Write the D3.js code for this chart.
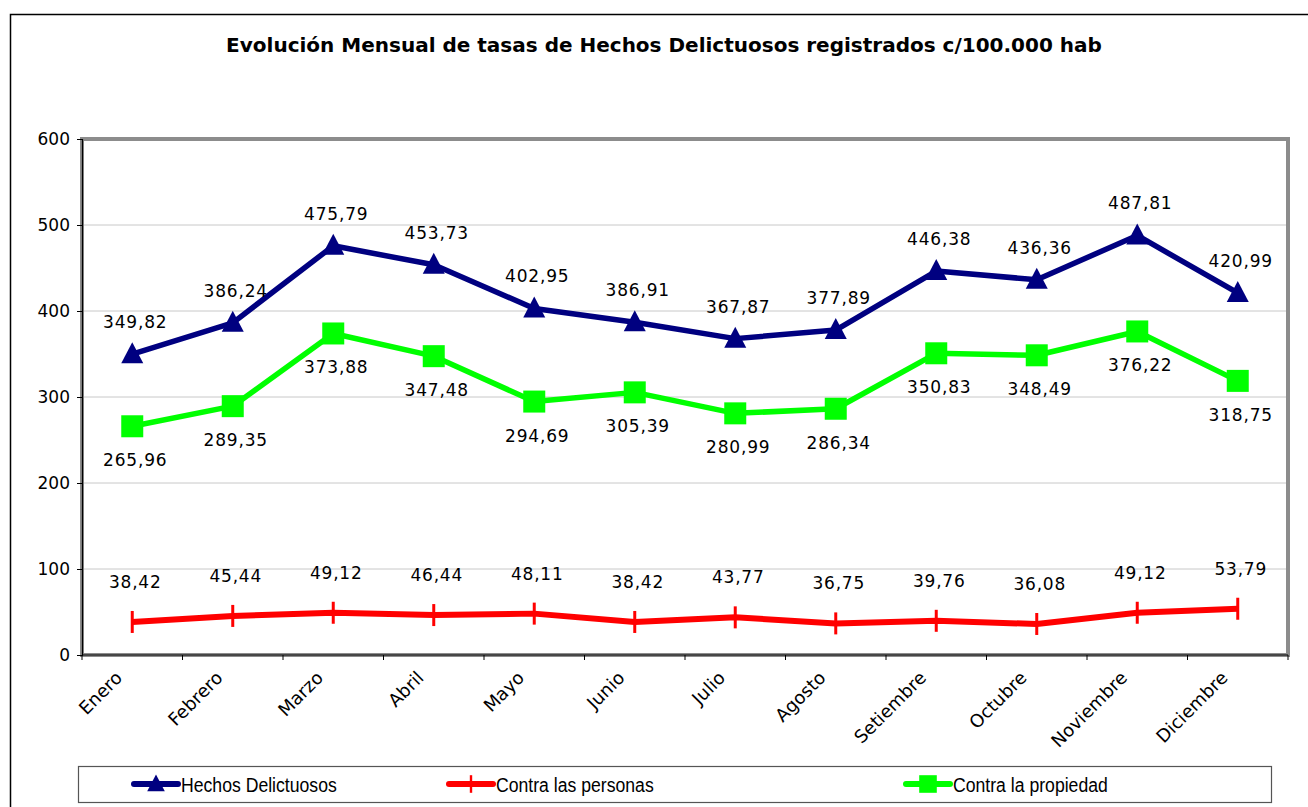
<!DOCTYPE html>
<html lang="es">
<head>
<meta charset="utf-8">
<title>Evolución Mensual de tasas de Hechos Delictuosos</title>
<style>
    body { margin: 0; background: #fff; }
    svg text { fill: #000; }
    .tick-lbl { font-family: "DejaVu Sans", sans-serif; font-size: 17px; }
    .x-lbl { font-family: "DejaVu Sans", sans-serif; font-size: 18px; }
    .data-lbl { font-family: "DejaVu Sans", sans-serif; font-size: 17px; letter-spacing: 0.8px; }
    .legend-lbl { font-family: "Liberation Sans", Arial, sans-serif; font-size: 21px; }
</style>
</head>
<body>
<div id="chart"></div>
<script src="https://cdnjs.cloudflare.com/ajax/libs/d3/7.8.5/d3.min.js"></script>
<script>
    // data
    var months = ["Enero", "Febrero", "Marzo", "Abril", "Mayo", "Junio", "Julio",
        "Agosto", "Setiembre", "Octubre", "Noviembre", "Diciembre"];
    var hechos = [349.82, 386.24, 475.79, 453.73, 402.95, 386.91, 367.87, 377.89, 446.38, 436.36, 487.81, 420.99];
    var personas = [38.42, 45.44, 49.12, 46.44, 48.11, 38.42, 43.77, 36.75, 39.76, 36.08, 49.12, 53.79];
    var propiedad = [265.96, 289.35, 373.88, 347.48, 294.69, 305.39, 280.99, 286.34, 350.83, 348.49, 376.22, 318.75];
    var yTicks = [0, 100, 200, 300, 400, 500, 600];

    var width = 1308, height = 807;
    var plot = {left: 82, right: 1288, top: 139, bottom: 655};

    var svg = d3.select("#chart").append("svg")
        .attr("width", width)
        .attr("height", height);

    // outer chart border (runs off the page on the right / bottom)
    svg.append("rect")
        .attr("x", 10.5).attr("y", 14.5)
        .attr("width", 1320).attr("height", 820)
        .attr("fill", "#fff")
        .attr("stroke", "#000")
        .attr("stroke-width", 1.5);

    svg.append("text")
        .attr("x", 664).attr("y", 52)
        .attr("text-anchor", "middle")
        .style("font-family", "'DejaVu Sans', sans-serif")
        .style("font-weight", "bold")
        .style("font-size", "20px")
        .text("Evolución Mensual de tasas de Hechos Delictuosos registrados c/100.000 hab");

    var x = d3.scaleBand()
        .domain(months)
        .range([plot.left, plot.right]);
    var y = d3.scaleLinear()
        .domain([0, 600])
        .range([plot.bottom, plot.top]);
    var cx = function(i) { return x(months[i]) + x.bandwidth() / 2; };

    // grid
    svg.append("g").selectAll("line")
        .data(yTicks.slice(1, -1))
        .join("line")
        .attr("x1", plot.left).attr("x2", plot.right)
        .attr("y1", d => y(d)).attr("y2", d => y(d))
        .attr("stroke", "#c8c8c8")
        .attr("stroke-width", 1);

    // gray plot frame
    svg.append("rect")
        .attr("x", plot.left).attr("y", plot.top)
        .attr("width", plot.right - plot.left)
        .attr("height", plot.bottom - plot.top)
        .attr("fill", "none")
        .attr("stroke", "#8c8c8c")
        .attr("stroke-width", 4);

    // y axis
    var yAxis = svg.append("g")
        .attr("transform", "translate(" + plot.left + ",0)")
        .call(d3.axisLeft(y).tickValues(yTicks).tickSize(5).tickPadding(7));
    yAxis.select(".domain").attr("stroke", "#000").attr("stroke-width", 1.2);
    yAxis.selectAll("text").attr("class", "tick-lbl").attr("fill", "#000");

    // x axis, ticks at band edges
    var xAxis = svg.append("g")
        .attr("transform", "translate(0," + plot.bottom + ")");
    xAxis.append("line")
        .attr("x1", plot.left).attr("x2", plot.right)
        .attr("stroke", "#000").attr("stroke-width", 1.2);
    xAxis.selectAll(".xt")
        .data(d3.range(months.length + 1))
        .join("line")
        .attr("x1", i => plot.left + i * x.bandwidth())
        .attr("x2", i => plot.left + i * x.bandwidth())
        .attr("y1", 0).attr("y2", 5)
        .attr("stroke", "#000");
    xAxis.selectAll(".xl")
        .data(months)
        .join("text")
        .attr("class", "x-lbl")
        .attr("text-anchor", "end")
        .attr("transform", d => "translate(" + (x(d) + x.bandwidth() / 2 - 9) + ",24) rotate(-45)")
        .text(d => d);

    var line = d3.line()
        .x((d, i) => cx(i))
        .y(d => y(d));

    var fmt = function(v) { return v.toFixed(2).replace(".", ","); };

    var series = [
        {name: "Hechos Delictuosos", values: hechos, color: "#000080", marker: "triangle", lw: 5.5, dy: -26},
        {name: "Contra las personas", values: personas, color: "#ff0000", marker: "dash", lw: 6, dy: -34},
        {name: "Contra la propiedad", values: propiedad, color: "#00ff00", marker: "square", lw: 5.5, dy: 40}
    ];

    function drawMarker(g, type, color) {
        if (type === "triangle") {
            g.append("path").attr("d", "M0,-12 L11,9 L-11,9 Z").attr("fill", color);
        } else if (type === "square") {
            g.append("rect").attr("x", -11).attr("y", -11).attr("width", 22).attr("height", 22).attr("fill", color);
        } else {
            g.append("line").attr("y1", -11).attr("y2", 11).attr("stroke", color).attr("stroke-width", 3);
        }
    }

    series.forEach(function(s) {
        svg.append("path")
            .datum(s.values)
            .attr("d", line)
            .attr("fill", "none")
            .attr("stroke", s.color)
            .attr("stroke-width", s.lw)
            .attr("stroke-linejoin", "round");
        s.values.forEach(function(v, i) {
            var g = svg.append("g").attr("transform", "translate(" + cx(i) + "," + y(v) + ")");
            drawMarker(g, s.marker, s.color);
        });
        svg.append("g").selectAll("text")
            .data(s.values)
            .join("text")
            .attr("class", "data-lbl")
            .attr("text-anchor", "middle")
            .attr("x", (d, i) => cx(i) + 3)
            .attr("y", d => y(d) + s.dy)
            .text(fmt);
    });

    // legend
    var legend = svg.append("g");
    legend.append("rect")
        .attr("x", 78.5).attr("y", 766.5)
        .attr("width", 1193).attr("height", 36)
        .attr("fill", "#fff")
        .attr("stroke", "#555")
        .attr("stroke-width", 1.2);
    var legX = [132, 447, 904];
    series.forEach(function(s, i) {
        var g = legend.append("g").attr("transform", "translate(" + legX[i] + ",784)");
        g.append("line")
            .attr("x1", 2).attr("x2", 46)
            .attr("stroke", s.color)
            .attr("stroke-width", 6)
            .attr("stroke-linecap", "round");
        var m = g.append("g").attr("transform", "translate(24,0) scale(0.8)");
        drawMarker(m, s.marker, s.color);
        // narrow look of the original legend font
        g.append("g")
            .attr("transform", "translate(49,8) scale(0.84,1)")
            .append("text")
            .attr("class", "legend-lbl")
            .text(s.name);
    });
</script>
</body>
</html>
